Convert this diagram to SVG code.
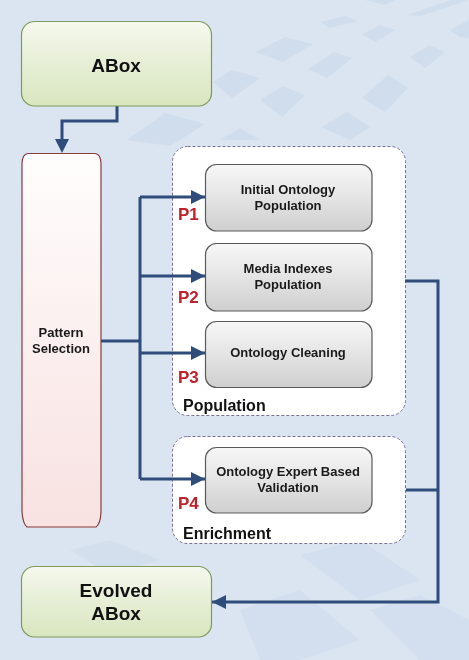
<svg xmlns="http://www.w3.org/2000/svg" width="469" height="660" viewBox="0 0 469 660">
  <defs>
    <linearGradient id="gGreen" x1="0" y1="0" x2="0" y2="1">
      <stop offset="0" stop-color="#f6f9ee"/>
      <stop offset="0.35" stop-color="#eaf1dc"/>
      <stop offset="1" stop-color="#d9e6bf"/>
    </linearGradient>
    <linearGradient id="gGray" x1="0" y1="0" x2="0" y2="1">
      <stop offset="0" stop-color="#f7f7f7"/>
      <stop offset="0.4" stop-color="#e8e8e8"/>
      <stop offset="1" stop-color="#cfcfcf"/>
    </linearGradient>
    <linearGradient id="gPink" x1="0" y1="0" x2="0" y2="1">
      <stop offset="0" stop-color="#fffdfd"/>
      <stop offset="1" stop-color="#f8e1e1"/>
    </linearGradient>
    <marker id="arr" markerUnits="userSpaceOnUse" markerWidth="14" markerHeight="14" refX="14" refY="7" orient="auto">
      <path d="M0,0 L14,7 L0,14 Z" fill="#2e4d7b"/>
    </marker>
    <style>
      .conn { fill: none; stroke: #2e4d7b; stroke-width: 3; }
      .green { fill: url(#gGreen); stroke: #7d9a5c; stroke-width: 1.2; }
      .proc { fill: url(#gGray); stroke: #5a5a5a; stroke-width: 1.2; }
      .cont { fill: #ffffff; stroke: #7a6e9c; stroke-width: 1; stroke-dasharray: 3 2; }
      .big { font-family: "Liberation Sans", Arial, sans-serif; font-weight: bold; font-size: 19px; fill: #111; text-anchor: middle; }
      .lbl { font-family: "Liberation Sans", Arial, sans-serif; font-weight: bold; font-size: 13px; fill: #1a1a1a; text-anchor: middle; }
      .grp { font-family: "Liberation Sans", Arial, sans-serif; font-weight: bold; font-size: 16px; fill: #111; }
      .p { font-family: "Liberation Sans", Arial, sans-serif; font-weight: bold; font-size: 17px; fill: #c0202a; }
      .deco { fill: #c9d7ea; }
    </style>
  </defs>

  <rect x="0" y="0" width="469" height="660" fill="#dbe5f1"/>
  <g id="background" opacity="0.6">
    <polygon class="deco" points="365,0 395,0 385,5" />
    <polygon class="deco" points="407,15 452,0 468,0 420,16" />
    <polygon class="deco" points="320,22 345,16 358,21 330,28" />
    <polygon class="deco" points="362,34 380,25 395,30 375,42" />
    <polygon class="deco" points="410,57 430,45 445,52 425,68" />
    <polygon class="deco" points="450,30 469,20 469,38 460,37" />
    <polygon class="deco" points="256,52 285,37 313,44 283,62" />
    <polygon class="deco" points="308,69 334,52 352,58 327,78" />
    <polygon class="deco" points="362,98 388,75 408,88 385,112" />
    <polygon class="deco" points="213,82 232,70 260,78 232,98" />
    <polygon class="deco" points="260,100 283,86 305,95 282,117" />
    <polygon class="deco" points="322,127 347,112 370,127 350,140" />
    <polygon class="deco" points="127,140 165,113 205,124 170,146" />
    <polygon class="deco" points="220,140 240,128 260,140" />
    <polygon class="deco" points="300,555 360,540 420,580 360,600" opacity="0.7"/>
    <polygon class="deco" points="240,610 300,590 360,640 300,660 260,660" opacity="0.7"/>
    <polygon class="deco" points="370,610 420,595 469,620 469,660 420,660" opacity="0.7"/>
    <polygon class="deco" points="70,550 110,540 160,560 110,575" opacity="0.6"/>
  </g>

  <g id="containers">
    <g id="population">
      <rect class="cont" x="172.5" y="146.5" width="233" height="269" rx="15" ry="15"/>
      <text class="grp" x="183" y="411">Population</text>
    </g>
    <g id="enrichment">
      <rect class="cont" x="172.5" y="436.5" width="233" height="107" rx="15" ry="15"/>
      <text class="grp" x="183" y="539">Enrichment</text>
    </g>
  </g>

  <g id="connectors">
    <path class="conn" d="M117,106 V121 H62 V139" />
    <polygon points="55,139 69,139 62,153" fill="#2e4d7b"/>
    <path class="conn" d="M101,341 H140" />
    <path class="conn" d="M140,197 V479" />
    <path class="conn" d="M140,197 H205" marker-end="url(#arr)" />
    <path class="conn" d="M140,276 H205" marker-end="url(#arr)" />
    <path class="conn" d="M140,353 H205" marker-end="url(#arr)" />
    <path class="conn" d="M140,479 H205" marker-end="url(#arr)" />
    <path class="conn" d="M405,281 H438 V602 H212" marker-end="url(#arr)" />
    <path class="conn" d="M406,490 H438" />
  </g>

  <g id="abox">
    <rect class="green" x="21.5" y="21.5" width="190" height="84.5" rx="13" ry="13"/>
    <text class="big" x="116" y="72">ABox</text>
  </g>

  <g id="pattern-selection">
    <path d="M28,153.5 L95,153.5 Q100.5,154 101,163 L101,512 Q100.5,524 96,527 L27,527 Q23,524 22,512 L22,163 Q22.5,154 28,153.5 Z" fill="url(#gPink)" stroke="#8a3b3b" stroke-width="1.2"/>
    <text class="lbl" x="61" y="337">Pattern</text>
    <text class="lbl" x="61" y="353">Selection</text>
  </g>

  <g id="p1">
    <rect class="proc" x="205.5" y="164.5" width="166.5" height="66.5" rx="11" ry="11"/>
    <text class="lbl" x="288" y="194">Initial Ontology</text>
    <text class="lbl" x="288" y="210">Population</text>
    <text class="p" x="178" y="220">P1</text>
  </g>

  <g id="p2">
    <rect class="proc" x="205.5" y="243.5" width="166.5" height="67.5" rx="11" ry="11"/>
    <text class="lbl" x="288" y="273">Media Indexes</text>
    <text class="lbl" x="288" y="289">Population</text>
    <text class="p" x="178" y="303">P2</text>
  </g>

  <g id="p3">
    <rect class="proc" x="205.5" y="321.5" width="166.5" height="66" rx="11" ry="11"/>
    <text class="lbl" x="288" y="357">Ontology Cleaning</text>
    <text class="p" x="178" y="383">P3</text>
  </g>

  <g id="p4">
    <rect class="proc" x="205.5" y="447.5" width="166.5" height="65.5" rx="11" ry="11"/>
    <text class="lbl" x="288" y="476">Ontology Expert Based</text>
    <text class="lbl" x="288" y="492">Validation</text>
    <text class="p" x="178" y="509">P4</text>
  </g>

  <g id="evolved-abox">
    <rect class="green" x="21.5" y="566.5" width="190" height="70.5" rx="13" ry="13"/>
    <text class="big" x="116" y="597">Evolved</text>
    <text class="big" x="116" y="620">ABox</text>
  </g>
</svg>
